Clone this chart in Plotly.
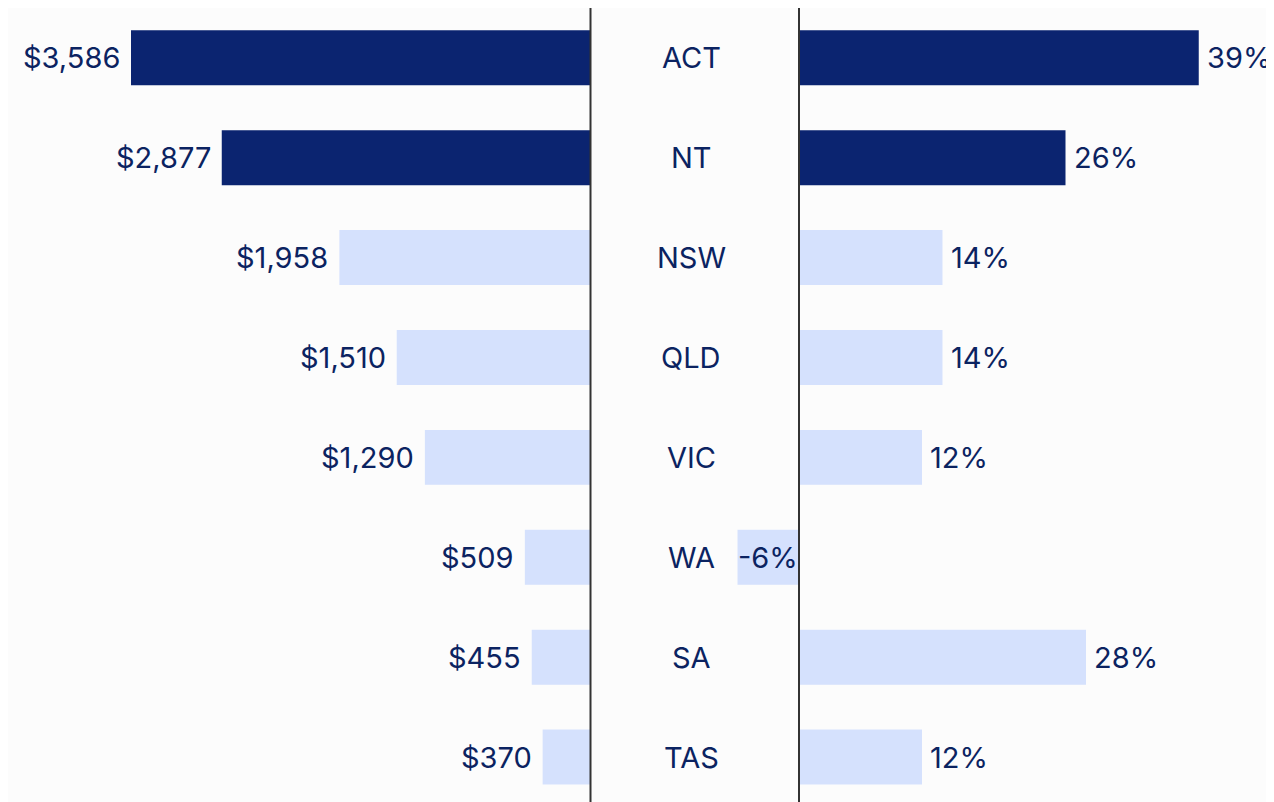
import plotly.graph_objects as go

states = ["ACT", "NT", "NSW", "QLD", "VIC", "WA", "SA", "TAS"]
dollar_values = [3586, 2877, 1958, 1510, 1290, 509, 455, 370]
pct_change = [39, 26, 14, 14, 12, -6, 28, 12]
highlighted = ["ACT", "NT"]

DARK = "#0b2470"
LIGHT = "#d5e1fd"
TEXT = "#0b2361"
FONT = "Inter"
FSIZE = 29
W, H = 1274, 802

colors = [DARK if s in highlighted else LIGHT for s in states]

fig = go.Figure()

# left panel - dollar amounts, bars grow to the left
fig.add_trace(go.Bar(
    x=dollar_values, y=states, orientation="h",
    marker=dict(color=colors, line=dict(width=0)),
    width=0.55, xaxis="x", yaxis="y", hoverinfo="skip",
))

# right panel - percentage change
fig.add_trace(go.Bar(
    x=pct_change, y=states, orientation="h",
    marker=dict(color=colors, line=dict(width=0)),
    width=0.55, xaxis="x2", yaxis="y", hoverinfo="skip",
))

font = dict(family=FONT, size=FSIZE, color=TEXT)
annotations = []
for s, v in zip(states, dollar_values):
    annotations.append(dict(
        x=v, y=s, xref="x", yref="y", text=f"${v:,}",
        xanchor="right", showarrow=False, xshift=-9, font=font,
    ))
for s, v in zip(states, pct_change):
    if v < 0:
        # negative value sits inside its bar
        annotations.append(dict(
            x=v / 2, y=s, xref="x2", yref="y", text=f"{v}%",
            xanchor="center", showarrow=False, font=font,
        ))
    else:
        annotations.append(dict(
            x=v, y=s, xref="x2", yref="y", text=f"{v}%",
            xanchor="left", showarrow=False, xshift=6, font=font,
        ))
for s in states:
    annotations.append(dict(
        x=683 / W, y=s, xref="paper", yref="y", text=s,
        xanchor="center", showarrow=False, font=font,
    ))

left_px = 459 / 3586
right_px = 10.25
left_zero = 582
right_zero = 791

fig.update_layout(
    width=W, height=H,
    margin=dict(l=0, r=0, t=0, b=0),
    paper_bgcolor="#fcfcfc", plot_bgcolor="#fcfcfc",
    showlegend=False, barmode="overlay",
    xaxis=dict(domain=[0, left_zero / W], range=[left_zero / left_px, 0],
               visible=False, fixedrange=True),
    xaxis2=dict(domain=[(left_zero + 1) / W, 1],
                range=[-(right_zero - left_zero - 1) / right_px,
                       (W - right_zero) / right_px],
                visible=False, fixedrange=True),
    yaxis=dict(range=[7.53, -0.4985], visible=False, type="category"),
    annotations=annotations,
    shapes=[
        dict(type="line", xref="paper", yref="paper",
             x0=(left_zero + 0.5) / W, x1=(left_zero + 0.5) / W, y0=0, y1=1,
             line=dict(color="#333333", width=2)),
        dict(type="line", xref="paper", yref="paper",
             x0=right_zero / W, x1=right_zero / W, y0=0, y1=1,
             line=dict(color="#333333", width=2)),
    ],
)

fig.write_html("out.html")
